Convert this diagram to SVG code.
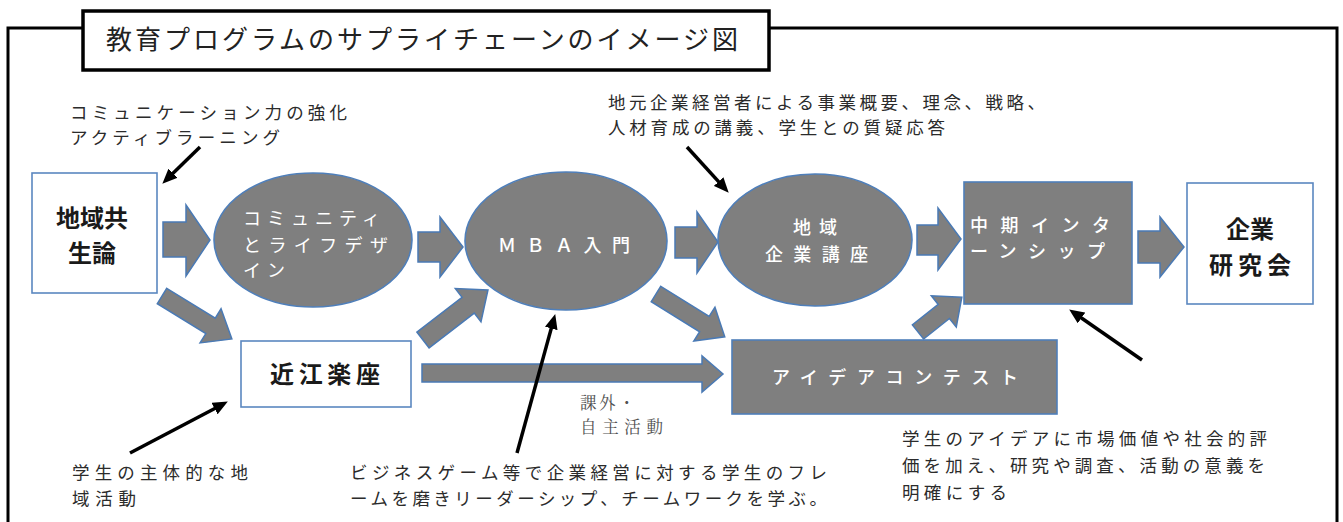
<svg xmlns="http://www.w3.org/2000/svg" width="1343" height="522" viewBox="0 0 1343 522">
<style>
text{font-family:"Noto Sans CJK JP","Noto Sans CJK SC",sans-serif;}
.note{font-size:17.5px;fill:#2b2b2b;}
.ser{font-family:"Noto Serif CJK JP","Liberation Serif","Noto Sans CJK JP",serif;font-size:16.5px;fill:#505050;}
.wbox{fill:#fff;stroke:#5b87c0;stroke-width:1.6;}
.gbox{fill:#7f7f7f;stroke:#4f7fba;stroke-width:1.6;}
.blk{fill:#7f7f7f;stroke:#4a7ab5;stroke-width:1.5;stroke-linejoin:miter;}
.lbl{font-size:24px;font-weight:700;fill:#1a1a1a;text-anchor:middle;}
.wl{fill:#fff;font-size:18px;}
.ann{stroke:#000;stroke-width:3.5;fill:none;marker-end:url(#ah);}
</style>
<defs>
<marker id="ah" markerUnits="userSpaceOnUse" markerWidth="15" markerHeight="13" refX="4" refY="6.5" orient="auto">
<path d="M0,0 L15,6.5 L0,13 z" fill="#000"/>
</marker>
</defs>
<rect width="1343" height="522" fill="#fff"/>
<g id="frame">
<polyline points="8,522 8,28 83,28" fill="none" stroke="#000" stroke-width="3"/>
<polyline points="769,28 1337,28 1337,522" fill="none" stroke="#000" stroke-width="3"/>
</g>
<g id="title">
<rect x="83" y="11" width="686" height="59" fill="#fff" stroke="#000" stroke-width="3.5"/>
<text x="106" y="49" font-size="26" fill="#222" textLength="632" lengthAdjust="spacing">教育プログラムのサプライチェーンのイメージ図</text>
</g>
<g id="connectors">
<polygon class="blk" points="163,222 186,222 186,205 210,240 186,276 186,257 163,257"/>
<polygon class="blk" points="418,232 440,232 440,217 463,247 440,277 440,262 418,262"/>
<polygon class="blk" points="675,227 697,227 697,212 718,242 697,273 697,258 675,258"/>
<polygon class="blk" points="917,225 938,225 938,208 961,239 938,270 938,255 917,255"/>
<polygon class="blk" points="1138,231 1160,231 1160,217 1184,247 1160,277 1160,263 1138,263"/>
<polygon class="blk" points="422,364 702,364 702,356 723,374 702,392 702,382 422,382"/>
<polygon class="blk" transform="translate(162,296) rotate(31.6)" points="0,-9 57,-9 57,-20 82,0 57,20 57,9 0,9"/>
<polygon class="blk" transform="translate(423,340) rotate(-37.6)" points="0,-10 57,-10 57,-21 82,0 57,21 57,10 0,10"/>
<polygon class="blk" transform="translate(656,294) rotate(31.9)" points="0,-9 57,-9 57,-20 81,0 57,20 57,9 0,9"/>
<polygon class="blk" transform="translate(918,332) rotate(-38.5)" points="0,-9 33,-9 33,-20 56,0 33,20 33,9 0,9"/>
<line class="ann" x1="200" y1="147" x2="170.2" y2="176"/>
<line class="ann" x1="687" y1="147" x2="721.3" y2="184.6"/>
<line class="ann" x1="517" y1="453" x2="552.3" y2="324.6"/>
<line class="ann" x1="130" y1="453" x2="218.1" y2="406.7"/>
<line class="ann" x1="1142" y1="360" x2="1078.2" y2="315.7"/>
</g>
<g id="n-chiiki-kyosei">
<rect class="wbox" x="32" y="173" width="125" height="120"/>
<text class="lbl" x="92" y="227">地域共</text>
<text class="lbl" x="92" y="262">生論</text>
</g>
<g id="n-community">
<ellipse class="gbox" cx="313" cy="240" rx="99" ry="67"/>
<text class="wl" x="243" y="225" textLength="137" lengthAdjust="spacing">コミュニティ</text>
<text class="wl" x="243" y="252" textLength="145" lengthAdjust="spacing">とライフデザ</text>
<text class="wl" x="243" y="277" textLength="42" lengthAdjust="spacing">イン</text>
</g>
<g id="n-mba">
<ellipse class="gbox" cx="566" cy="241" rx="101" ry="69"/>
<text class="wl" x="498" y="252" font-size="26" font-weight="500" textLength="132" lengthAdjust="spacing">ＭＢＡ入門</text>
</g>
<g id="n-kigyo-koza">
<ellipse class="gbox" cx="815" cy="240" rx="97" ry="66"/>
<text class="wl" x="815" y="234" font-size="18.5" font-weight="500" text-anchor="middle" textLength="44" lengthAdjust="spacing">地域</text>
<text class="wl" x="765" y="261" font-size="18.5" font-weight="500" textLength="103" lengthAdjust="spacing">企業講座</text>
</g>
<g id="n-internship">
<rect class="gbox" x="964" y="182" width="168" height="122"/>
<text class="wl" x="970" y="232" font-size="18" font-weight="500" textLength="140" lengthAdjust="spacing">中期インタ</text>
<text class="wl" x="970" y="258" font-size="18" font-weight="500" textLength="135" lengthAdjust="spacing">ーンシップ</text>
</g>
<g id="n-kigyo-kenkyu">
<rect class="wbox" x="1187" y="183" width="126" height="121"/>
<text class="lbl" x="1250" y="238">企業</text>
<text class="lbl" x="1250" y="273.5" textLength="82" lengthAdjust="spacing">研究会</text>
</g>
<g id="n-omi">
<rect class="wbox" x="241" y="341" width="170" height="66"/>
<text class="lbl" x="325" y="382.5" textLength="110" lengthAdjust="spacing">近江楽座</text>
</g>
<g id="n-idea">
<rect class="gbox" x="732" y="340" width="325" height="74"/>
<text class="wl" x="772" y="384" font-size="24" font-weight="500" textLength="246" lengthAdjust="spacing">アイデアコンテスト</text>
</g>
<g id="notes">
<text class="note" x="70" y="118.5" textLength="277" lengthAdjust="spacing">コミュニケーション力の強化</text>
<text class="note" x="70" y="143.5" textLength="210" lengthAdjust="spacing">アクティブラーニング</text>
<text class="note" x="608" y="108.5" textLength="437" lengthAdjust="spacing">地元企業経営者による事業概要、理念、戦略、</text>
<text class="note" x="608" y="133.5" textLength="337" lengthAdjust="spacing">人材育成の講義、学生との質疑応答</text>
<text class="ser" x="580" y="409" textLength="55" lengthAdjust="spacing">課外・</text>
<text class="ser" x="580" y="433" textLength="83" lengthAdjust="spacing">自主活動</text>
<text class="note" x="72" y="478.5" textLength="176" lengthAdjust="spacing">学生の主体的な地</text>
<text class="note" x="72" y="504.5" textLength="64" lengthAdjust="spacing">域活動</text>
<text class="note" x="350" y="478.5" textLength="477" lengthAdjust="spacing">ビジネスゲーム等で企業経営に対する学生のフレ</text>
<text class="note" x="350" y="504.5" textLength="477" lengthAdjust="spacing">ームを磨きリーダーシップ、チームワークを学ぶ。</text>
<text class="note" x="902" y="444.5" textLength="365" lengthAdjust="spacing">学生のアイデアに市場価値や社会的評</text>
<text class="note" x="902" y="471.5" textLength="363" lengthAdjust="spacing">価を加え、研究や調査、活動の意義を</text>
<text class="note" x="902" y="498.5" textLength="105" lengthAdjust="spacing">明確にする</text>
</g>
</svg>
